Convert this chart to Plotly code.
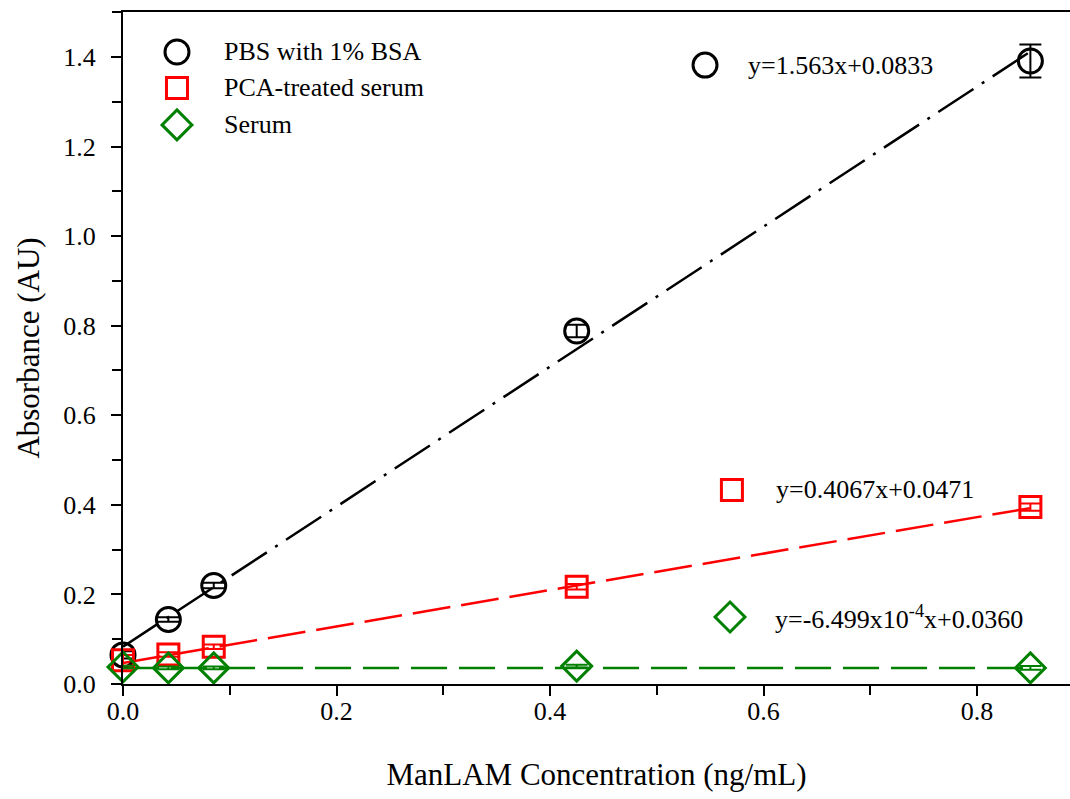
import plotly.graph_objects as go

# ---------------- data ----------------
conc = [0.0, 0.0425, 0.085, 0.425, 0.85]
pbs = [0.065, 0.144, 0.220, 0.788, 1.391]
pbs_err = [0.008, 0.005, 0.006, 0.014, 0.037]
pca = [0.053, 0.066, 0.083, 0.217, 0.395]
pca_err = [0.012, 0.005, 0.005, 0.006, 0.008]
serum = [0.038, 0.036, 0.036, 0.040, 0.036]
serum_err = [0.003, 0.003, 0.003, 0.003, 0.004]

series_names = ["PBS with 1% BSA", "PCA-treated serum", "Serum"]
fit_slopes = [1.563, 0.4067, -6.499e-4]
fit_intercepts = [0.0833, 0.0471, 0.0360]
fit_labels = ["y=1.563x+0.0833", "y=0.4067x+0.0471",
              "y=-6.499x10<sup>-4</sup>x+0.0360"]
fit_x = [0.0, 0.85]

x_ticks = [0.0, 0.2, 0.4, 0.6, 0.8]
y_ticks = [0.0, 0.2, 0.4, 0.6, 0.8, 1.0, 1.2, 1.4]

# ---------------- style ----------------
FONT = "Liberation Serif, Times New Roman, serif"
colors = ["#000000", "#ff0000", "#008000"]
symbols = ["circle-open", "square-open", "diamond-open"]
msizes = [24, 21, 23]
dashes = ["42px,10px,3px,10px", "38px,11px", "36px,12px"]

W, H = 1070, 799
L, R, T, B = 123, 0, 12, 115

fig = go.Figure()

ys = [pbs, pca, serum]
errs = [pbs_err, pca_err, serum_err]

# fit lines
for i in range(3):
    fy = [fit_slopes[i] * xv + fit_intercepts[i] for xv in fit_x]
    fig.add_trace(go.Scatter(
        x=fit_x, y=fy, mode="lines", showlegend=False,
        line=dict(color=colors[i], width=2.5, dash=dashes[i]),
        hoverinfo="skip"))

# data markers with error bars
for i in range(3):
    fig.add_trace(go.Scatter(
        x=conc, y=ys[i], mode="markers", name=series_names[i],
        showlegend=False, cliponaxis=False,
        marker=dict(symbol=symbols[i], size=msizes[i], color=colors[i],
                    line=dict(width=3, color=colors[i])),
        error_y=dict(type="data", array=errs[i], visible=True,
                     color=colors[i], thickness=2, width=11)))

# legend keys & equation keys on an overlay (fraction) axis
leg_x = [0.057, 0.057, 0.057]
leg_y = [0.9405, 0.887, 0.832]
eq_x = [0.6146, 0.643, 0.641]
eq_y = [0.921, 0.2887, 0.0997]
for i in range(3):
    fig.add_trace(go.Scatter(
        x=[leg_x[i], eq_x[i]], y=[leg_y[i], eq_y[i]], mode="markers",
        xaxis="x2", yaxis="y2", showlegend=False, cliponaxis=False,
        marker=dict(symbol=symbols[i], size=msizes[i], color=colors[i],
                    line=dict(width=3, color=colors[i])),
        hoverinfo="skip"))

annotations = []
leg_text_x = 0.1045
for i in range(3):
    annotations.append(dict(
        x=leg_text_x, y=leg_y[i], xref="x2", yref="y2", text=series_names[i],
        showarrow=False, xanchor="left", yanchor="middle",
        font=dict(family=FONT, size=26, color="black")))
eq_text_x = [0.658, 0.687, 0.686]
for i in range(3):
    annotations.append(dict(
        x=eq_text_x[i], y=eq_y[i], xref="x2", yref="y2", text=fit_labels[i],
        showarrow=False, xanchor="left", yanchor="middle",
        font=dict(family=FONT, size=26, color="black")))

plot_w = W - L - R
plot_h = H - T - B

shapes = [
    # x-axis line extends left of the y-axis
    dict(type="line", xref="paper", yref="paper", x0=-10 / plot_w, x1=0,
         y0=0, y1=0, line=dict(color="black", width=2)),
    # y-axis line extends below the x-axis
    dict(type="line", xref="paper", yref="paper", x0=0, x1=0,
         y0=-11 / plot_h, y1=0, line=dict(color="black", width=2)),
]

axis_font = dict(family=FONT, size=26, color="black")

fig.update_layout(
    width=W, height=H,
    margin=dict(l=L, r=R, t=T, b=B, pad=0),
    paper_bgcolor="white", plot_bgcolor="white",
    showlegend=False,
    font=dict(family=FONT, color="black"),
    xaxis=dict(
        range=[0, 0.8871], showgrid=False, zeroline=False,
        showline=True, linecolor="black", linewidth=2, mirror=True,
        ticks="outside", ticklen=10, tickwidth=2, tickcolor="black",
        tickvals=x_ticks, tickformat=".1f", tickfont=axis_font,
        ticklabelstandoff=-7,
        minor=dict(dtick=0.1, tick0=0, ticks="outside", ticklen=9,
                   tickwidth=2, tickcolor="black", showgrid=False),
        title=dict(text="ManLAM Concentration (ng/mL)",
                   font=dict(family=FONT, size=31, color="black"),
                   standoff=38),
    ),
    yaxis=dict(
        range=[0, 1.5003], showgrid=False, zeroline=False,
        showline=True, linecolor="black", linewidth=2, mirror=False,
        ticks="outside", ticklen=10, tickwidth=2, tickcolor="black",
        tickvals=y_ticks, tickformat=".1f", tickfont=axis_font,
        ticklabelstandoff=10,
        minor=dict(dtick=0.1, tick0=0, ticks="outside", ticklen=9,
                   tickwidth=2, tickcolor="black", showgrid=False),
        title=dict(text="Absorbance (AU)",
                   font=dict(family=FONT, size=31, color="black"),
                   standoff=14),
    ),
    xaxis2=dict(range=[0, 1], overlaying="x", visible=False,
                fixedrange=True),
    yaxis2=dict(range=[0, 1], overlaying="y", visible=False,
                fixedrange=True),
    annotations=annotations,
    shapes=shapes,
)

fig.write_html("out.html")
